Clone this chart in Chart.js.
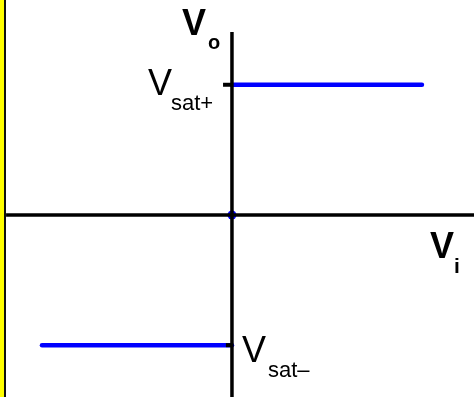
<!DOCTYPE html>
<html>
<head>
<meta charset="utf-8">
<script src="https://cdn.jsdelivr.net/npm/chart.js@4.4.1/dist/chart.umd.min.js"></script>
<style>
  html, body { margin: 0; padding: 0; background: #fff; }
  #wrap { width: 474px; height: 397px; }
</style>
</head>
<body>
<div id="wrap"><canvas id="myChart" width="474" height="397"></canvas></div>
<script>
// Comparator transfer characteristic (Vo vs Vi), values normalised to Vsat = 1
const xRange = [-1.221, 1.274];
const yRange = [-1.398, 1.651];

const highBranchX = [0, 1];
const highBranchY = [1, 1];
const lowBranchX = [-1, 0];
const lowBranchY = [-1, -1];

const hAxisStart = -1.189;
const vAxisTop = 1.405;
const tickUpperX = [-0.047, 0];
const tickLowerX = [-0.032, 0];

const labelVo = ['V', 'o'];
const labelVi = ['V', 'i'];
const labelSatHigh = ['V', 'sat+'];
const labelSatLow = ['V', 'sat\u2013'];

const blue = '#0000ff';

function pts(xs, ys) {
    return xs.map((x, i) => ({ x: x, y: ys[i] }));
}

// Borde amarillo a la izquierda
const frame = {
    id: 'frame',
    beforeDraw(chart) {
        const c = chart.ctx;
        c.save();
        c.fillStyle = '#ffff00';
        c.fillRect(0, 0, 4, chart.height);
        c.fillStyle = '#111111';
        c.fillRect(4, 0, 2, chart.height);
        c.restore();
    }
};

// Etiquetas de los ejes y niveles de saturacion
const labels = {
    id: 'labels',
    afterDraw(chart) {
        const c = chart.ctx;
        const ox = chart.scales.x.getPixelForValue(0);
        const oy = chart.scales.y.getPixelForValue(0);
        const yHigh = chart.scales.y.getPixelForValue(1);
        const yLow = chart.scales.y.getPixelForValue(-1);
        c.save();
        c.fillStyle = '#000';
        c.textBaseline = 'alphabetic';
        c.textAlign = 'left';
        const fam = '"Liberation Sans", Arial, sans-serif';

        c.font = 'bold 36px ' + fam;
        c.fillText(labelVo[0], ox - 50, 35);
        c.font = 'bold 20px ' + fam;
        c.fillText(labelVo[1], ox - 24, 49);

        c.font = 'bold 36px ' + fam;
        c.fillText(labelVi[0], 430, oy + 43);
        c.font = 'bold 21px ' + fam;
        c.fillText(labelVi[1], 454, oy + 58);

        c.font = '36px ' + fam;
        c.fillText(labelSatHigh[0], ox - 84, yHigh + 10);
        c.font = '22px ' + fam;
        c.fillText(labelSatHigh[1], ox - 61, yHigh + 25);

        c.font = '36px ' + fam;
        c.fillText(labelSatLow[0], ox + 10, yLow + 17);
        c.font = '22px ' + fam;
        c.fillText(labelSatLow[1], ox + 36, yLow + 32);
        c.restore();
    }
};

const ctx = document.getElementById('myChart').getContext('2d');
const myChart = new Chart(ctx, {
    type: 'line',
    data: {
        datasets: [
            {
                label: 'Vsat+',
                data: pts(highBranchX, highBranchY),
                borderColor: blue,
                borderWidth: 4.5,
                borderCapStyle: 'round',
                pointRadius: 0,
                order: 3
            },
            {
                label: 'Vsat-',
                data: pts(lowBranchX, lowBranchY),
                borderColor: blue,
                borderWidth: 4.5,
                borderCapStyle: 'round',
                pointRadius: 0,
                order: 3
            },
            {
                label: 'ticks+',
                data: pts(tickUpperX, [1, 1]),
                borderColor: '#000',
                borderWidth: 4,
                pointRadius: 0,
                order: 2
            },
            {
                label: 'ticks-',
                data: pts(tickLowerX, [-1, -1]),
                borderColor: '#000',
                borderWidth: 4,
                pointRadius: 0,
                order: 2
            },
            {
                label: 'origin',
                data: [{ x: 0, y: 0 }],
                showLine: false,
                pointRadius: 4.5,
                pointBackgroundColor: blue,
                pointBorderWidth: 0,
                order: 5
            },
            {
                label: 'eje Vi',
                data: pts([hAxisStart, xRange[1]], [0, 0]),
                borderColor: '#000',
                borderWidth: 3.5,
                pointRadius: 0,
                order: 1
            },
            {
                label: 'eje Vo',
                data: pts([0, 0], [yRange[0], vAxisTop]),
                borderColor: '#000',
                borderWidth: 3.5,
                pointRadius: 0,
                order: 1
            }
        ]
    },
    options: {
        responsive: false,
        animation: false,
        devicePixelRatio: 1,
        layout: { padding: 0, autoPadding: false },
        plugins: {
            legend: { display: false },
            tooltip: { enabled: false }
        },
        scales: {
            x: { type: 'linear', min: xRange[0], max: xRange[1], display: false },
            y: { type: 'linear', min: yRange[0], max: yRange[1], display: false }
        }
    },
    plugins: [frame, labels]
});
</script>
</body>
</html>
